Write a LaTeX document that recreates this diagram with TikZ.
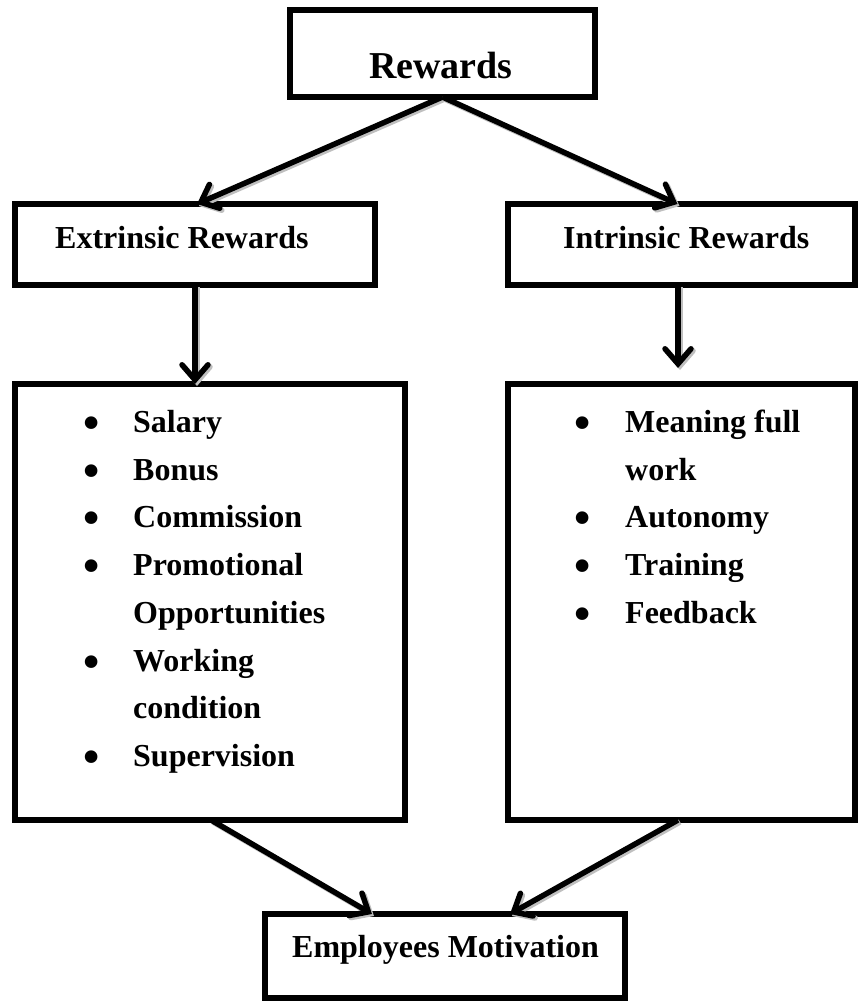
\documentclass[tikz,border=0pt]{standalone}
\usepackage{fontspec}
\setmainfont{Liberation Serif}
\usetikzlibrary{arrows.meta,calc}
\begin{document}
\begin{tikzpicture}[x=1pt,y=-1pt,
  box/.style={draw, line width=6pt, inner sep=0pt, outer sep=0pt},
  tipstyle/.style={-{Straight Barb[length=15pt,width=26pt,line cap=round]}},
  conn/.style={line width=5.5pt, tipstyle,
    preaction={draw=gray!50, line width=5.5pt, tipstyle, transform canvas={shift={(2pt,-2pt)}}}},
  lbl/.style={anchor=base west, inner sep=0pt, font=\fontsize{32}{38}\selectfont\bfseries},
  bul/.style={anchor=base, inner sep=0pt, font=\fontsize{32}{38}\selectfont\bfseries}
]
\useasboundingbox (0,0) rectangle (858,1001);

% boxes
\node[box, minimum width=305pt, minimum height=87pt] (rew) at (442.5,53.5) {};
\node[box, minimum width=360pt, minimum height=81pt] (ext) at (195,244.5) {};
\node[box, minimum width=347pt, minimum height=81pt] (int) at (681.5,244.5) {};
\node[box, minimum width=390pt, minimum height=436pt] (lst1) at (210,602) {};
\node[box, minimum width=347pt, minimum height=436pt] (lst2) at (681.5,602) {};
\node[box, minimum width=360pt, minimum height=84pt] (mot) at (445,956) {};

% titles
\node[anchor=base, inner sep=0pt, font=\fontsize{38}{44}\selectfont\bfseries] (trew) at (441,78) {Rewards};
\node[lbl] (text) at (55,248) {Extrinsic Rewards};
\node[lbl] (tint) at (563,248) {Intrinsic Rewards};
\node[lbl] (tmot) at (292,957) {Employees Motivation};

% extrinsic list
\foreach \n/\y/\b/\t in {1/432.5/1/Salary, 2/480.2/1/Bonus, 3/527.9/1/Commission, 4/575.6/1/Promotional, 5/623.3/0/Opportunities, 6/671/1/Working, 7/718.7/0/condition, 8/766.4/1/Supervision}{
  \ifnum\b=1 \node[bul] (eb\n) at (92,\y+6) {\scalebox{1.45}{•}};\fi
  \node[lbl] (e\n) at (133,\y) {\t};
}
% intrinsic list
\foreach \n/\y/\b/\t in {1/432.5/1/Meaning full, 2/480.2/0/work, 3/527.9/1/Autonomy, 4/575.6/1/Training, 5/623.3/1/Feedback}{
  \ifnum\b=1 \node[bul] (ib\n) at (583,\y+6) {\scalebox{1.45}{•}};\fi
  \node[lbl] (i\n) at (625,\y) {\t};
}

% connectors
\draw[conn] (rew.south) -- ([xshift=2pt]ext.north);
\draw[conn] (rew.south) -- ([xshift=-4pt]int.north);
\draw[conn] (ext.south) -- (ext.south |- lst1.north);
\draw[conn] ([xshift=-3.5pt]int.south) -- ([xshift=-3.5pt,yshift=16pt]int.south |- lst2.north);
\draw[conn] ([xshift=1pt]lst1.south) -- ([xshift=-73pt]mot.north);
\draw[conn] ([xshift=-3.5pt]lst2.south) -- ([xshift=65pt]mot.north);
\end{tikzpicture}
\end{document}
